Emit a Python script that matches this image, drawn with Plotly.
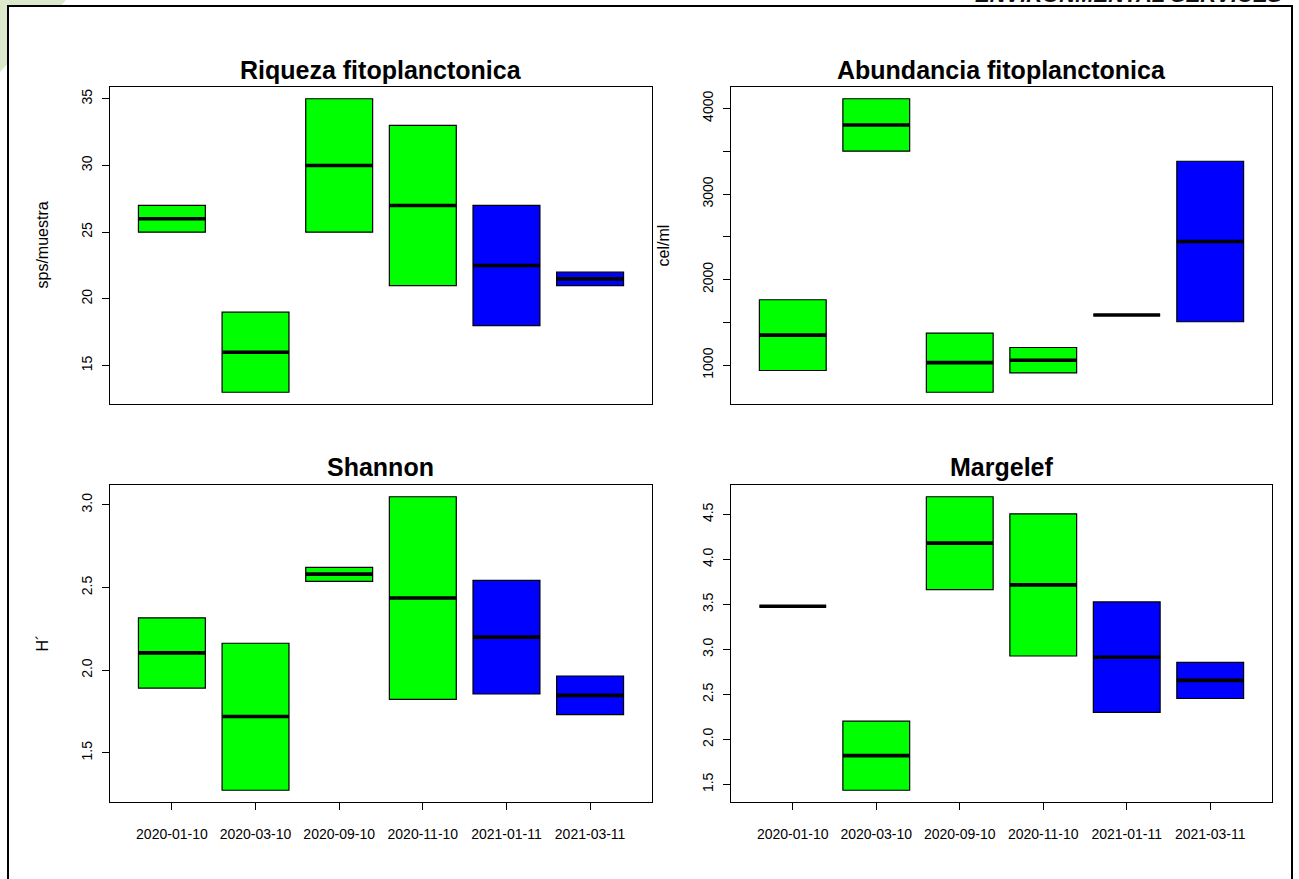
import plotly.graph_objects as go

W, H = 1299, 879

dates = ["2020-01-10", "2020-03-10", "2020-09-10", "2020-11-10", "2021-01-11", "2021-03-11"]
positions = [1, 2, 3, 4, 5, 6]
box_colors = ["#00FF00", "#00FF00", "#00FF00", "#00FF00", "#0000FF", "#0000FF"]

# Riqueza fitoplanctonica (sps/muestra)
riq_lo = [25, 13, 25, 21, 18, 21]
riq_med = [26, 16, 30, 27, 22.5, 21.5]
riq_hi = [27, 19, 35, 33, 27, 22]

# Abundancia fitoplanctonica (cel/ml)
abu_lo = [938, 3500, 684, 910, 1586, 1508]
abu_med = [1352, 3806, 1030, 1058, 1586, 2446]
abu_hi = [1765, 4113, 1375, 1207, 1586, 3383]

# Shannon (H')
sha_lo = [1.892, 1.274, 2.537, 1.824, 1.856, 1.731]
sha_med = [2.105, 1.720, 2.581, 2.437, 2.200, 1.848]
sha_hi = [2.317, 2.163, 2.622, 3.049, 2.543, 1.965]

# Margelef
mar_lo = [3.48, 1.435, 3.665, 2.927, 2.300, 2.455]
mar_med = [3.48, 1.820, 4.181, 3.717, 2.914, 2.656]
mar_hi = [3.48, 2.203, 4.697, 4.507, 3.528, 2.856]

riq_ticks = [15, 20, 25, 30, 35]
riq_ticktext = ["15", "20", "25", "30", "35"]
abu_ticks = [1000, 1500, 2000, 2500, 3000, 3500, 4000]
abu_ticktext = ["1000", "", "2000", "", "3000", "", "4000"]
sha_ticks = [1.5, 2.0, 2.5, 3.0]
sha_ticktext = ["1.5", "2.0", "2.5", "3.0"]
mar_ticks = [1.5, 2.0, 2.5, 3.0, 3.5, 4.0, 4.5]
mar_ticktext = ["1.5", "2.0", "2.5", "3.0", "3.5", "4.0", "4.5"]

panels = [
    dict(title="Riqueza fitoplanctonica", ylab="sps/muestra", lo=riq_lo, med=riq_med, hi=riq_hi,
         ticks=riq_ticks, ticktext=riq_ticktext, px=(110, 652), py=(87, 404), xlabels=False),
    dict(title="Abundancia fitoplanctonica", ylab="cel/ml", lo=abu_lo, med=abu_med, hi=abu_hi,
         ticks=abu_ticks, ticktext=abu_ticktext, px=(731, 1272), py=(87, 404), xlabels=False),
    dict(title="Shannon", ylab="H´", lo=sha_lo, med=sha_med, hi=sha_hi,
         ticks=sha_ticks, ticktext=sha_ticktext, px=(110, 652), py=(485, 802), xlabels=True),
    dict(title="Margelef", ylab="", lo=mar_lo, med=mar_med, hi=mar_hi,
         ticks=mar_ticks, ticktext=mar_ticktext, px=(731, 1272), py=(485, 802), xlabels=True),
]

FONT = "Liberation Sans, Arial, sans-serif"
fig = go.Figure()
layout = {}
annotations = []

for k, p in enumerate(panels):
    n = k + 1
    xa = "x" if n == 1 else f"x{n}"
    ya = "y" if n == 1 else f"y{n}"
    xkey = "xaxis" if n == 1 else f"xaxis{n}"
    ykey = "yaxis" if n == 1 else f"yaxis{n}"

    for i in range(len(dates)):
        fig.add_trace(go.Box(
            x=[positions[i]], q1=[p["lo"][i]], median=[p["med"][i]], q3=[p["hi"][i]],
            lowerfence=[p["lo"][i]], upperfence=[p["hi"][i]],
            width=0.8, whiskerwidth=0, fillcolor=box_colors[i],
            line=dict(color="black", width=1.2), xaxis=xa, yaxis=ya,
            showlegend=False, hoverinfo="skip", boxpoints=False))
        fig.add_trace(go.Box(
            x=[positions[i]], q1=[p["med"][i]], median=[p["med"][i]], q3=[p["med"][i]],
            lowerfence=[p["med"][i]], upperfence=[p["med"][i]],
            width=0.8, whiskerwidth=0, fillcolor="black",
            line=dict(color="black", width=3.6), xaxis=xa, yaxis=ya,
            showlegend=False, hoverinfo="skip", boxpoints=False))

    ymin, ymax = min(p["lo"]), max(p["hi"])
    pad = 0.04 * (ymax - ymin)
    x0, x1 = p["px"]
    y0, y1 = p["py"]
    layout[xkey] = dict(
        domain=[x0 / W, x1 / W], anchor=ya, range=[0.26, 6.74],
        tickvals=positions if p["xlabels"] else [],
        ticktext=dates if p["xlabels"] else [],
        showticklabels=p["xlabels"], ticks="outside" if p["xlabels"] else "",
        ticklen=7, tickcolor="black", tickwidth=1,
        showline=True, mirror=True, linecolor="black", linewidth=1,
        showgrid=False, zeroline=False, fixedrange=True,
        tickfont=dict(family=FONT, size=14, color="black"),
        ticklabelstandoff=12)
    layout[ykey] = dict(
        domain=[1 - y1 / H, 1 - y0 / H], anchor=xa, range=[ymin - pad, ymax + pad],
        tickvals=p["ticks"], ticktext=p["ticktext"], tickangle=-90,
        ticks="outside", ticklen=7, tickcolor="black", tickwidth=1,
        showline=True, mirror=True, linecolor="black", linewidth=1,
        showgrid=False, zeroline=False, fixedrange=True,
        tickfont=dict(family=FONT, size=14, color="black"),
        ticklabelstandoff=4)
    annotations.append(dict(
        text=f"<b>{p['title']}</b>", xref="paper", yref="paper",
        x=(x0 + x1) / 2 / W, y=1 - 70 / H if y0 < 300 else 1 - 467 / H,
        xanchor="center", yanchor="middle", showarrow=False,
        font=dict(family=FONT, size=25, color="black")))
    if p["ylab"]:
        annotations.append(dict(
            text=p["ylab"], xref="paper", yref="paper",
            x=(x0 - 68) / W, y=1 - (y0 + y1) / 2 / H,
            xanchor="center", yanchor="middle", textangle=-90, showarrow=False,
            font=dict(family=FONT, size=16, color="black")))

annotations.append(dict(
    text="<b><i>ENVIRONMENTAL SERVICES</i></b>", xref="paper", yref="paper",
    x=1285 / W, y=1 - 9 / H, xanchor="right", yanchor="bottom", showarrow=False,
    font=dict(family=FONT, size=22, color="#111111")))

shapes = [
    dict(type="path", xref="paper", yref="paper",
         path=f"M 0 1 L {66 / W} 1 L 0 {1 - 72 / H} Z",
         fillcolor="#dce8cc", line=dict(width=0), layer="below"),
    dict(type="rect", xref="paper", yref="paper",
         x0=8 / W, x1=1292 / W, y0=-0.05, y1=1 - 6 / H,
         fillcolor="white", line=dict(color="black", width=2), layer="below"),
]

fig.update_layout(
    width=W, height=H, margin=dict(l=0, r=0, t=0, b=0),
    paper_bgcolor="white", plot_bgcolor="rgba(0,0,0,0)",
    boxmode="overlay", showlegend=False,
    annotations=annotations, shapes=shapes,
    font=dict(family=FONT, color="black"),
    **layout)

fig.write_html(
    "out.html",
    config={"displayModeBar": False, "staticPlot": True},
    post_script="document.body.style.margin='0';document.body.style.padding='0';"
                "document.body.style.overflow='hidden';")
